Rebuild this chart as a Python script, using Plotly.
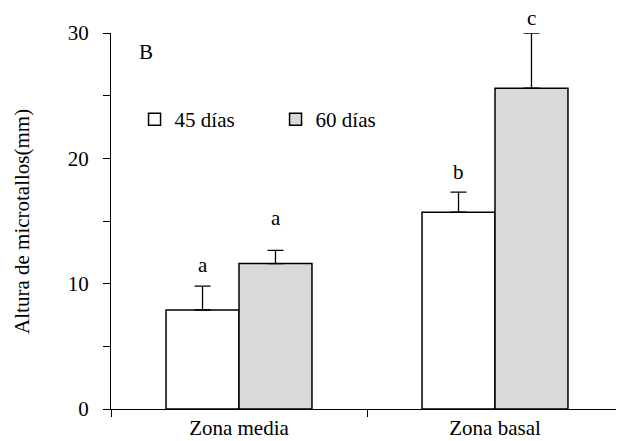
import plotly.graph_objects as go

categories = ["Zona media", "Zona basal"]
series_names = ["45 días", "60 días"]
values_45 = [7.9, 15.7]
errors_45 = [1.9, 1.6]
values_60 = [11.6, 25.6]
errors_60 = [1.05, 4.4]
letters_45 = ["a", "b"]
letters_60 = ["a", "c"]
letter_y_45 = [11.5, 18.9]
letter_y_60 = [15.2, 31.2]
y_tick_vals = [0, 5, 10, 15, 20, 25, 30]
y_tick_text = ["0", "", "10", "", "20", "", "30"]
y_title = "Altura de microtallos(mm)"
Y_MAX = 30

FONT = "Liberation Serif"
FS = 21
PLOT_H = 433 - 25 - 32
PX_PER_UNIT = PLOT_H / Y_MAX

fig = go.Figure()
fig.add_trace(go.Bar(
    x=categories, y=values_45, name=series_names[0],
    marker=dict(color="white", line=dict(color="black", width=1.5)),
    error_y=dict(type="data", array=errors_45, arrayminus=[0, 0], symmetric=False,
                 color="black", thickness=1.3, width=8),
))
fig.add_trace(go.Bar(
    x=categories, y=values_60, name=series_names[1],
    marker=dict(color="#d9d9db", line=dict(color="black", width=1.5)),
    error_y=dict(type="data", array=errors_60, arrayminus=[0, 0], symmetric=False,
                 color="black", thickness=1.3, width=8),
))


def add_letter(cat, txt, yy, shift):
    yc = min(yy, Y_MAX)
    fig.add_annotation(x=cat, y=yc, yshift=(yy - yc) * PX_PER_UNIT, text=txt,
                       showarrow=False, xshift=shift, yanchor="middle",
                       font=dict(family=FONT, size=FS, color="black"))


for cat, txt, yy in zip(categories, letters_45, letter_y_45):
    add_letter(cat, txt, yy, -36.5)
for cat, txt, yy in zip(categories, letters_60, letter_y_60):
    add_letter(cat, txt, yy, 36.5)

fig.add_annotation(x=0.068, y=0.95, xref="paper", yref="paper", text="B", showarrow=False,
                   xanchor="center", yanchor="middle",
                   font=dict(family=FONT, size=FS, color="black"))

# y-axis title
fig.add_annotation(x=-0.174, y=0.5, xref="paper", yref="paper", text=y_title,
                   textangle=-90, showarrow=False, xanchor="center", yanchor="middle",
                   font=dict(family=FONT, size=FS, color="black"))

fig.update_layout(
    width=616, height=433,
    margin=dict(l=103, r=1, t=25, b=32, autoexpand=False),
    paper_bgcolor="white", plot_bgcolor="white",
    barmode="group", bargap=0.43, bargroupgap=0,
    font=dict(family=FONT, size=FS, color="black"),
    legend=dict(orientation="h", x=0.046, y=0.77, xanchor="left", yanchor="middle",
                font=dict(family=FONT, size=FS), bgcolor="rgba(0,0,0,0)",
                itemwidth=30, entrywidth=96, traceorder="normal"),
    xaxis=dict(type="category", range=[-0.5, 1.5], tickson="boundaries",
               showline=True, linecolor="black", linewidth=1.3,
               ticks="outside", ticklen=7, tickcolor="black", tickwidth=1.3,
               showgrid=False, zeroline=False, automargin=False,
               tickfont=dict(family=FONT, size=FS)),
    yaxis=dict(range=[0, Y_MAX], tickmode="array", tickvals=y_tick_vals,
               ticktext=y_tick_text,
               showline=True, linecolor="black", linewidth=1.3,
               ticks="outside", ticklen=7, tickcolor="black", tickwidth=1.3,
               ticklabelstandoff=10,
               showgrid=False, zeroline=False, automargin=False,
               tickfont=dict(family=FONT, size=FS)),
)

fig.write_html("out.html")
